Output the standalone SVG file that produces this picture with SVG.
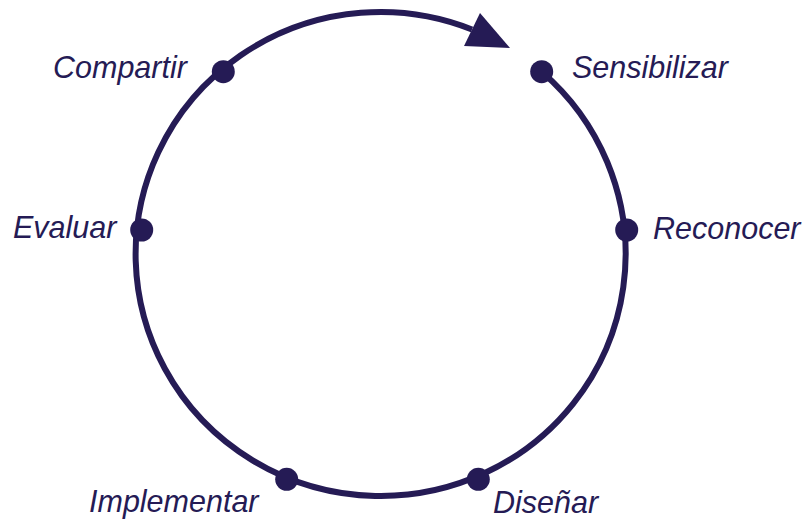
<svg xmlns="http://www.w3.org/2000/svg" width="806" height="520" viewBox="0 0 806 520">
<style>
.ring{fill:none;stroke:#251b55;stroke-width:6}
.dot{fill:#251b55}
.lbl{font-family:"Liberation Sans",Arial,sans-serif;font-style:italic;font-size:30.5px;fill:#251b55}
</style>
<rect width="806" height="520" fill="#ffffff"/>
<g id="connectors">
<path class="ring" d="M 541.7 71.7 A 245 242 0 1 1 472 29.5"/>
<polygon class="dot" points="480,13 464,46 510,48"/>
</g>
<g id="sensibilizar"><circle class="dot" cx="541.7" cy="71.7" r="11.5"/><text class="lbl" x="572" y="78">Sensibilizar</text></g>
<g id="reconocer"><circle class="dot" cx="626.7" cy="230" r="11.5"/><text class="lbl" x="653" y="239">Reconocer</text></g>
<g id="disenar"><circle class="dot" cx="478.3" cy="479.3" r="11.5"/><text class="lbl" x="493" y="513">Diseñar</text></g>
<g id="implementar"><circle class="dot" cx="286.7" cy="479.3" r="11.5"/><text class="lbl" x="89" y="512">Implementar</text></g>
<g id="evaluar"><circle class="dot" cx="141.7" cy="230" r="11.5"/><text class="lbl" x="13" y="238">Evaluar</text></g>
<g id="compartir"><circle class="dot" cx="223.3" cy="71.7" r="11.5"/><text class="lbl" x="53" y="78">Compartir</text></g>
</svg>
